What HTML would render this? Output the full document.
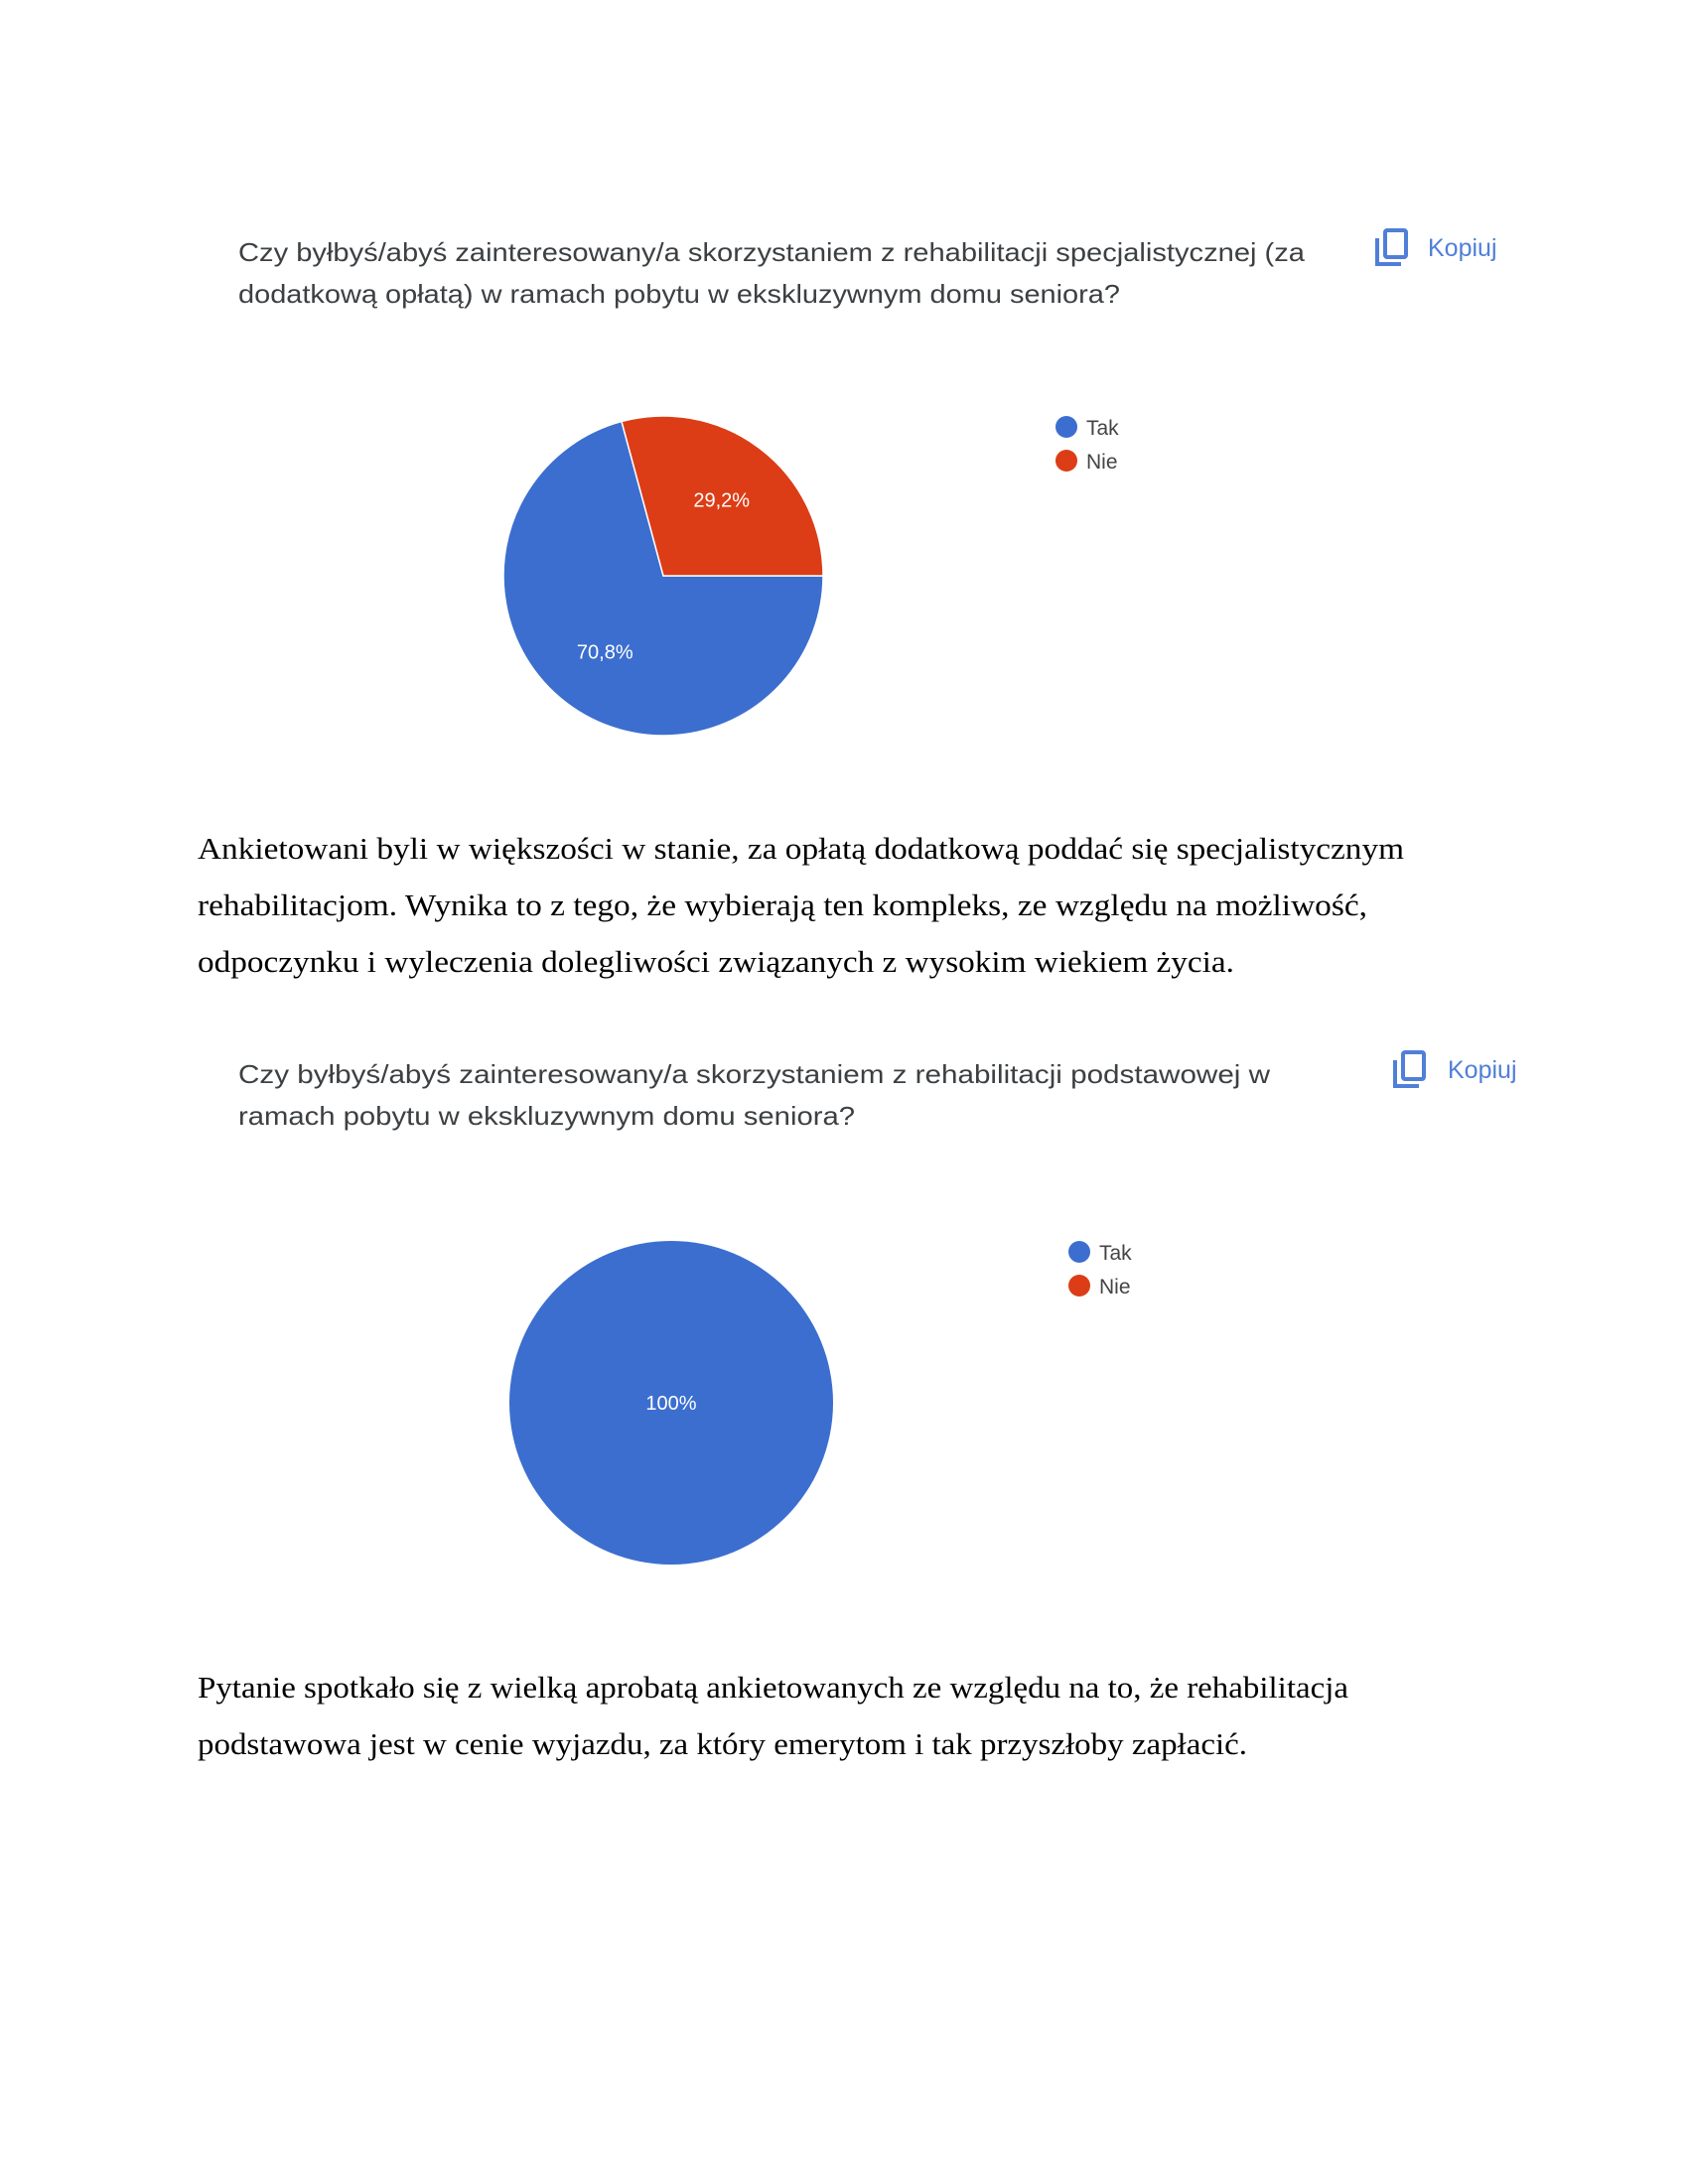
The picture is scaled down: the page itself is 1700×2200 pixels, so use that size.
<!DOCTYPE html>
<html><head><meta charset="utf-8"><style>
html,body{margin:0;padding:0;background:#fff;}
svg{display:block;}
.q{font-family:"Liberation Sans",sans-serif;font-size:26px;fill:#3c4043;}
.p{font-family:"Liberation Serif",serif;font-size:31px;fill:#000;}
.k{font-family:"Liberation Sans",sans-serif;font-size:25px;fill:#4f7fd8;}
.lg{font-family:"Liberation Sans",sans-serif;font-size:21px;fill:#444;}
.lab{font-family:"Liberation Sans",sans-serif;font-size:20px;fill:#fff;}
</style></head><body>
<svg id="page" width="1700" height="2200" viewBox="0 0 1700 2200">
<g>
<text class="q" x="240" y="263" textLength="1074" lengthAdjust="spacingAndGlyphs">Czy byłbyś/abyś zainteresowany/a skorzystaniem z rehabilitacji specjalistycznej (za</text>
<text class="q" x="240" y="305" textLength="888" lengthAdjust="spacingAndGlyphs">dodatkową opłatą) w ramach pobytu w ekskluzywnym domu seniora?</text>
</g>
<g>
<path d="M1387 240 V266 H1411" fill="none" stroke="#4f7fd8" stroke-width="4"/>
<rect x="1395" y="232" width="21" height="27" rx="2" fill="none" stroke="#4f7fd8" stroke-width="4"/>
<text class="k" x="1438" y="258">Kopiuj</text>
</g>
<g id="chart1"></g>
<g>
<circle cx="1074" cy="430" r="11" fill="#3b6ecf"/>
<text class="lg" x="1094" y="438">Tak</text>
<circle cx="1074" cy="464" r="11" fill="#dc3d16"/>
<text class="lg" x="1094" y="472">Nie</text>
</g>
<g>
<text class="p" x="199" y="865" textLength="1215" lengthAdjust="spacingAndGlyphs">Ankietowani byli w większości w stanie, za opłatą dodatkową poddać się specjalistycznym</text>
<text class="p" x="199" y="922" textLength="1178" lengthAdjust="spacingAndGlyphs">rehabilitacjom. Wynika to z tego, że wybierają ten kompleks, ze względu na możliwość,</text>
<text class="p" x="199" y="979" textLength="1044" lengthAdjust="spacingAndGlyphs">odpoczynku i wyleczenia dolegliwości związanych z wysokim wiekiem życia.</text>
</g>
<g>
<text class="q" x="240" y="1091" textLength="1039" lengthAdjust="spacingAndGlyphs">Czy byłbyś/abyś zainteresowany/a skorzystaniem z rehabilitacji podstawowej w</text>
<text class="q" x="240" y="1133" textLength="621" lengthAdjust="spacingAndGlyphs">ramach pobytu w ekskluzywnym domu seniora?</text>
</g>
<g>
<path d="M1405 1068 V1094 H1429" fill="none" stroke="#4f7fd8" stroke-width="4"/>
<rect x="1413" y="1060" width="21" height="27" rx="2" fill="none" stroke="#4f7fd8" stroke-width="4"/>
<text class="k" x="1458" y="1086">Kopiuj</text>
</g>
<g id="chart2"></g>
<g>
<circle cx="1087" cy="1261" r="11" fill="#3b6ecf"/>
<text class="lg" x="1107" y="1269">Tak</text>
<circle cx="1087" cy="1295" r="11" fill="#dc3d16"/>
<text class="lg" x="1107" y="1303">Nie</text>
</g>
<g>
<text class="p" x="199" y="1710" textLength="1159" lengthAdjust="spacingAndGlyphs">Pytanie spotkało się z wielką aprobatą ankietowanych ze względu na to, że rehabilitacja</text>
<text class="p" x="199" y="1767" textLength="1057" lengthAdjust="spacingAndGlyphs">podstawowa jest w cenie wyjazdu, za który emerytom i tak przyszłoby zapłacić.</text>
</g>
</svg>
<script>
const categories = ["Tak", "Nie"];
const pie1Values = [70.8, 29.2];
const pie1Labels = ["70,8%", "29,2%"];
const pie2Values = [100, 0];
const pie2Labels = ["100%", ""];
const colors = ["#3b6ecf", "#dc3d16"];
const NS = "http://www.w3.org/2000/svg";
function drawPie(gid, vals, labels, cx, cy, r) {
  const g = document.getElementById(gid);
  const total = vals.reduce((a, b) => a + b, 0);
  let a = Math.PI / 2;
  vals.forEach((v, i) => {
    if (v <= 0) return;
    const frac = v / total;
    const sweep = frac * 2 * Math.PI;
    let el;
    if (frac >= 0.9999) {
      el = document.createElementNS(NS, "circle");
      el.setAttribute("cx", cx); el.setAttribute("cy", cy); el.setAttribute("r", r);
    } else {
      const a0 = a - Math.PI / 2, a1 = a + sweep - Math.PI / 2;
      const x0 = cx + r * Math.cos(a0), y0 = cy + r * Math.sin(a0);
      const x1 = cx + r * Math.cos(a1), y1 = cy + r * Math.sin(a1);
      el = document.createElementNS(NS, "path");
      el.setAttribute("d", `M${cx},${cy} L${x0},${y0} A${r},${r} 0 ${sweep > Math.PI ? 1 : 0} 1 ${x1},${y1} Z`);
      el.setAttribute("stroke", "#fff");
      el.setAttribute("stroke-width", "1.5");
    }
    el.setAttribute("fill", colors[i]);
    
    
    g.appendChild(el);
    if (labels[i]) {
      const mid = a + sweep / 2 - Math.PI / 2;
      const d = frac >= 0.9999 ? 0 : r * 0.6;
      const t = document.createElementNS(NS, "text");
      t.setAttribute("x", cx + d * Math.cos(mid));
      t.setAttribute("y", cy + d * Math.sin(mid) + 7);
      t.setAttribute("text-anchor", "middle");
      t.setAttribute("class", "lab");
      t.textContent = labels[i];
      
      
      g.appendChild(t);
    }
    a += sweep;
  });
}
drawPie("chart1", pie1Values, pie1Labels, 668, 580, 161);
drawPie("chart2", pie2Values, pie2Labels, 676, 1413, 163);
</script>
</body></html>
